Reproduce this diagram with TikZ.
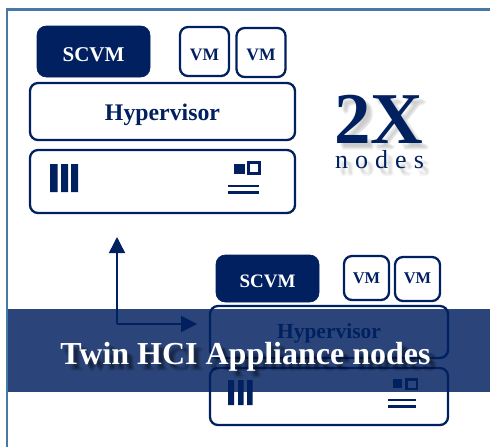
\documentclass[tikz,border=0pt]{standalone}
\usepackage{fontspec}
\setmainfont{Liberation Serif}
\newfontfamily\spacedserif[LetterSpace=27]{Liberation Serif}
\usetikzlibrary{arrows.meta}
\definecolor{navy}{HTML}{002060}
\definecolor{frameblue}{HTML}{4A78A6}
\newcommand{\pxfont}[1]{\pgfmathsetmacro\myfs{#1*0.75}\fontsize{\myfs}{\myfs}\selectfont}
\newcommand{\softtext}[7]{%
  % name, x, y, font, text, shadow colour, opacity
  \foreach \dx/\dy/\k in {3/3/a,4/5/b,5/4/c,6/6/d,5/7/e,7/5/f}{
    \node[plainlabel,text=#6,opacity=#7,name=#1\k] at (#2+\dx,#3+\dy) {#4#5};
  }
}
\tikzset{
  x=0.75pt,y=-0.75pt,
  bx/.style={draw=navy,line width=1.7pt,rounded corners=6pt,fill=white,inner sep=0pt,
    font=\bfseries,text=navy},
  solidbx/.style={fill=navy,draw=navy,line width=0.5pt,rounded corners=7pt,inner sep=0pt,
    font=\bfseries,text=white},
  raise/.style={text height=#1*1.5pt,text depth=0pt},
  size/.style 2 args={minimum width=#1*0.75pt,minimum height=#2*0.75pt},
  plainlabel/.style={inner sep=0pt,anchor=base},
  bar/.style={fill=navy,draw=none},
  rule/.style={draw=navy,line width=1.6pt},
  link/.style={draw=navy,line width=1.1pt,-{Triangle[length=12pt,width=12pt]}},
}
\begin{document}
\begin{tikzpicture}
\useasboundingbox (0,0) rectangle (490,447);
\fill[white] (0,0) rectangle (490,447);
\draw[frameblue,line width=1.9pt] (7,447) -- (7,9.5) -- (490,9.5);

% upper node
\node[solidbx,size={113}{51},raise=9.5] (scvmA) at (93.5,51.5) {\pxfont{21}SCVM};
\node[bx,size={49}{49},raise=8.5] (vmAa) at (204.5,51.5) {\pxfont{17.5}VM};
\node[bx,size={49}{49},raise=7.5] (vmAb) at (261,52.5) {\pxfont{17.5}VM};
\node[bx,size={265}{57},raise=8.5] (hvA) at (162.5,111.5) {\pxfont{23.8}Hypervisor};
\node[bx,size={265}{63}] (hwA) at (162.5,181.5) {};
\fill[bar] (50,164) rectangle (57.5,192) (61,164) rectangle (68,192) (71,164) rectangle (78,192);
\fill[bar] (234,164) rectangle (245,174);
\draw[navy,line width=1.6pt] (248.5,162.5) rectangle (259.5,173.5);
\draw[rule] (228,186) -- (259,186) (228,192.5) -- (259,192.5);

% 2X nodes
\softtext{shtwo}{379}{143}{\bfseries\pxfont{73}}{2X}{gray}{0.08}
\softtext{shnodes}{379.5}{169}{\spacedserif\pxfont{26}}{nodes}{gray}{0.08}
\node[plainlabel,text=navy,font=\bfseries] (two) at (379,143) {\pxfont{73}2X};
\node[plainlabel,text=navy] (nodesword) at (379.5,168) {\spacedserif\pxfont{26}nodes};

% lower node
\node[solidbx,size={103}{47},raise=8.5] (scvmB) at (267.5,278.5) {\pxfont{19}SCVM};
\node[bx,size={45}{44},raise=5.5] (vmBa) at (366.5,278) {\pxfont{16.4}VM};
\node[bx,size={45}{44},raise=4.5] (vmBb) at (417.5,279) {\pxfont{16.4}VM};
\node[bx,size={238}{52},raise=6] (hvB) at (329,332) {\pxfont{21.5}Hypervisor};
\node[bx,size={238}{57}] (hwB) at (329,396.5) {};
\fill[bar] (228,380) rectangle (234,405) (238,380) rectangle (243.5,405) (247,380) rectangle (252.5,405);
\fill[bar] (393,379) rectangle (402,388);
\draw[navy,line width=1.6pt] (406.5,379.5) rectangle (417,389);
\draw[rule] (388,400) -- (416,400) (388,406.5) -- (416,406.5);

% band
\fill[navy,fill opacity=0.83] (7.5,309) rectangle (490,392);

% arrows
\coordinate (corner) at (117,324);
\coordinate (upTip) at (117,237);
\coordinate (rightTip) at (197,324);
\draw[link] (corner) -- (upTip);
\draw[link] (corner) -- (rightTip);

% title
\softtext{shtitle}{245.5}{364}{\bfseries\pxfont{32}}{Twin HCI Appliance nodes}{black}{0.09}
\node[plainlabel,text=white,font=\bfseries] (title) at (245.5,364) {\pxfont{32}Twin HCI Appliance nodes};
\end{tikzpicture}
\end{document}
